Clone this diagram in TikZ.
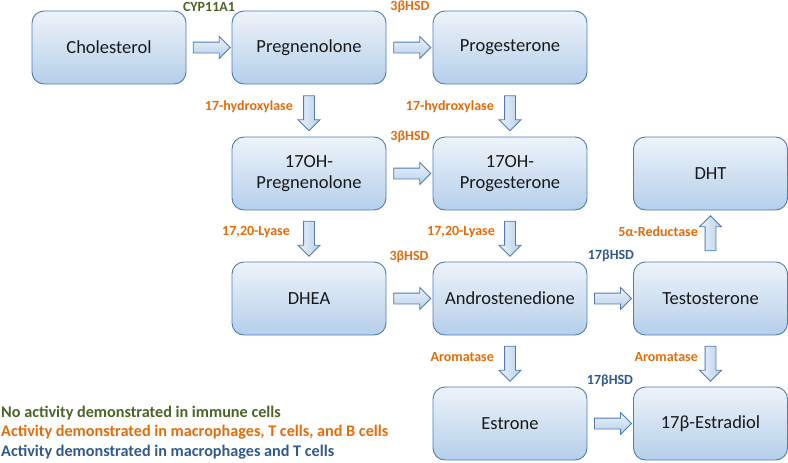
\documentclass[tikz,border=0pt]{standalone}
\usepackage{fontspec}
\setmainfont{Carlito}
\usetikzlibrary{shapes.arrows,calc}
\definecolor{boxtop}{HTML}{EEF3FA}
\definecolor{boxbot}{HTML}{B5CFEA}
\definecolor{boxline}{HTML}{4F7CB5}
\definecolor{orng}{HTML}{E46C0A}
\definecolor{grn}{HTML}{4F6228}
\definecolor{blu}{HTML}{2F5A8F}
\tikzset{
  stepbox/.style={draw=boxline, line width=0.9pt, rounded corners=12pt,
    top color=boxtop, bottom color=boxbot, minimum width=154pt, minimum height=73pt,
    text width=145pt, align=center, font=\fontsize{18.5}{21}\selectfont, text=black!90, inner sep=0pt},
  harrow/.style={single arrow, draw=boxline, line width=0.8pt, top color=boxtop, bottom color=boxbot,
    minimum height=37pt, minimum width=21pt, single arrow head extend=5.5pt,
    single arrow head indent=0pt, inner sep=5pt},
  varrow/.style={harrow, shape border rotate=#1, left color=boxtop, right color=boxbot, minimum height=35pt},
  enz/.style={font=\fontsize{14}{16}\selectfont\bfseries, inner sep=0pt},
  legend/.style={font=\fontsize{16.2}{18}\selectfont\bfseries, anchor=west, inner sep=0pt}
}
\begin{document}
\begin{tikzpicture}[x=1pt,y=-1pt]
\useasboundingbox (0,0) rectangle (788,463);
% boxes
\node[stepbox] (chol) at (109,47.5) {Cholesterol};
\node[stepbox] (preg) at (309,47.5) {Pregnenolone};
\node[stepbox] (prog) at (510,47.5) {Progesterone};
\node[stepbox] (ohpreg) at (309,173.5) {17OH-\\Pregnenolone};
\node[stepbox] (ohprog) at (510,173.5) {17OH-\\Progesterone};
\node[stepbox] (dht) at (710.5,173.5) {DHT};
\node[stepbox] (dhea) at (309,298.5) {DHEA};
\node[stepbox] (andro) at (510,298.5) {Androstenedione};
\node[stepbox] (testo) at (710.5,298.5) {Testosterone};
\node[stepbox] (estrone) at (510,423.5) {Estrone};
\node[stepbox] (estradiol) at (710.5,423.5) {17β-Estradiol};
% horizontal arrows
\node[harrow] (a1) at ($(chol.east)!0.5!(preg.west)$) {};
\node[harrow] (a2) at ($(preg.east)!0.5!(prog.west)$) {};
\node[harrow] (a3) at ($(ohpreg.east)!0.5!(ohprog.west)$) {};
\node[harrow] (a4) at ($(dhea.east)!0.5!(andro.west)$) {};
\node[harrow] (a5) at ($(andro.east)!0.5!(testo.west)$) {};
\node[harrow] (a6) at ($(estrone.east)!0.5!(estradiol.west)$) {};
% vertical arrows
\node[varrow=270] (v1) at ($(preg.south)!0.5!(ohpreg.north)$) {};
\node[varrow=270] (v2) at ($(prog.south)!0.5!(ohprog.north)$) {};
\node[varrow=270] (v3) at ($(ohpreg.south)!0.5!(dhea.north)$) {};
\node[varrow=270] (v4) at ($(ohprog.south)!0.5!(andro.north)$) {};
\node[varrow=90] (v5) at ($(testo.north)!0.5!(dht.south)$) {};
\node[varrow=270] (v6) at ($(andro.south)!0.5!(estrone.north)$) {};
\node[varrow=270] (v7) at ($(testo.south)!0.5!(estradiol.north)$) {};
% enzyme labels
\node[enz, text=grn] (l1) at (209,7) {CYP11A1};
\node[enz, text=orng] (l2) at (410,7) {3βHSD};
\node[enz, text=orng, anchor=east] (l3) at (293,107) {17-hydroxylase};
\node[enz, text=orng, anchor=east] (l4) at (494,107) {17-hydroxylase};
\node[enz, text=orng] (l5) at (410,137) {3βHSD};
\node[enz, text=orng, anchor=east] (l6) at (290,232) {17,20-Lyase};
\node[enz, text=orng, anchor=east] (l7) at (495,232) {17,20-Lyase};
\node[enz, text=orng] (l8) at (409,257) {3βHSD};
\node[enz, text=blu] (l9) at (611,256) {17βHSD};
\node[enz, text=orng, anchor=east] (l10) at (698,232) {5α-Reductase};
\node[enz, text=orng, anchor=east] (l11) at (494,357) {Aromatase};
\node[enz, text=orng, anchor=east] (l12) at (698,357) {Aromatase};
\node[enz, text=blu] (l13) at (610,381) {17βHSD};
% legend
\node[legend, text=grn] (g1) at (1,413) {No activity demonstrated in immune cells};
\node[legend, text=orng] (g2) at (1,432) {Activity demonstrated in macrophages, T cells, and B cells};
\node[legend, text=blu] (g3) at (1,452) {Activity demonstrated in macrophages and T cells};
\end{tikzpicture}
\end{document}
